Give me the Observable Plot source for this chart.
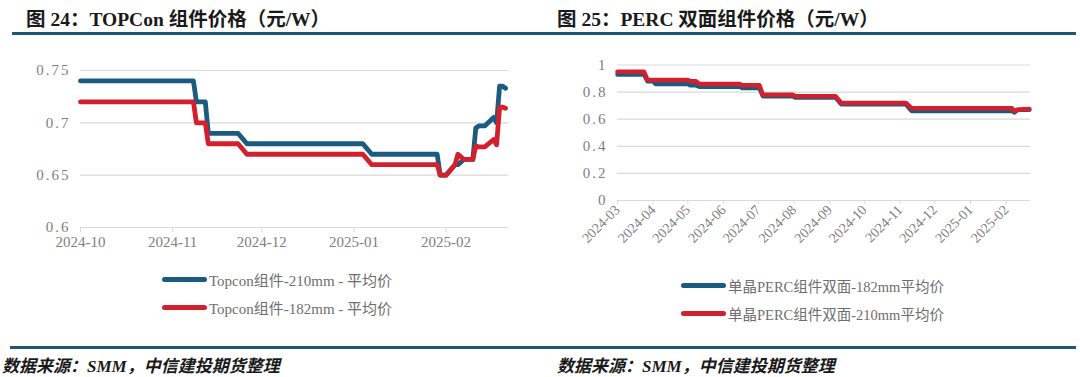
<!DOCTYPE html>
<html>
<head>
<meta charset="utf-8">
<script src="https://cdn.jsdelivr.net/npm/d3@7"></script>
<script src="https://cdn.jsdelivr.net/npm/@observablehq/plot@0.6"></script>
<style>
  html, body { margin: 0; padding: 0; background: #fff; }
  #root { position: relative; width: 1080px; height: 377px; overflow: hidden; background: #fff; }
  .title { position: absolute; top: 3px; font-family: "Liberation Serif", "Noto Sans CJK SC", serif; font-weight: bold; font-size: 19.5px; color: #1a1a1a; white-space: nowrap; }
  .rule { position: absolute; height: 3px; background: #1f5676; }
  .source { position: absolute; top: 357px; line-height: 20px; font-family: "Liberation Serif", "Noto Sans CJK SC", serif; font-weight: bold; font-style: italic; font-size: 17px; color: #1a1a1a; white-space: nowrap; }
  .chart { position: absolute; top: 50px; }
  .leg { position: absolute; font-family: "Liberation Serif", "Noto Sans CJK SC", serif; color: #6e6e6e; white-space: nowrap; display: flex; align-items: center; }
  .leg .sw { width: 45px; height: 5px; border-radius: 3px; margin-right: 2px; }
</style>
</head>
<body>
<div id="root">
  <div class="title" style="left:26px">图 24：TOPCon 组件价格（元/W）</div>
  <div class="title" style="left:557px">图 25：PERC 双面组件价格（元/W）</div>
  <div class="rule" style="left:12px; width:1064px; top:32px"></div>
  <div id="left" class="chart" style="left:0px"></div>
  <div id="right" class="chart" style="left:540px"></div>
  <div id="legLeft"></div>
  <div id="legRight"></div>
  <div class="rule" style="left:10px; width:1066px; top:346px"></div>
  <div class="source" style="left:2px">数据来源：SMM，中信建投期货整理</div>
  <div class="source" style="left:557px">数据来源：SMM，中信建投期货整理</div>
</div>
<script>
// ---------- Data: left chart (TOPCon) ----------
const topconDates = ["2024-10-01","2024-11-08","2024-11-09","2024-11-12","2024-11-13","2024-11-23","2024-11-26","2025-01-04","2025-01-07","2025-01-29","2025-01-30","2025-02-01","2025-02-04","2025-02-05","2025-02-07","2025-02-10","2025-02-11","2025-02-12","2025-02-14","2025-02-17","2025-02-18","2025-02-19","2025-02-20","2025-02-21"];
const topcon210 = [0.74,0.74,0.72,0.72,0.69,0.69,0.68,0.68,0.67,0.67,0.65,0.65,0.66,0.66,0.665,0.665,0.695,0.697,0.697,0.705,0.700,0.735,0.735,0.733];
const topcon182 = [0.72,0.72,0.70,0.70,0.68,0.68,0.67,0.67,0.66,0.66,0.65,0.65,0.66,0.67,0.665,0.665,0.678,0.677,0.677,0.684,0.679,0.715,0.715,0.714];
const topconSeries = ["Topcon组件-210mm - 平均价", "Topcon组件-182mm - 平均价"];
const leftXLabels = ["2024-10","2024-11","2024-12","2025-01","2025-02"];
const leftYTicks = [0.6, 0.65, 0.7, 0.75];
const leftYLabels = ["0.6","0.65","0.7","0.75"];
const leftDomainX = ["2024-10-01","2025-02-22"];

// ---------- Data: right chart (PERC bifacial) ----------
const percDates = ["2024-03-01","2024-03-24","2024-03-27","2024-04-01","2024-04-03","2024-05-01","2024-05-03","2024-05-08","2024-05-11","2024-06-15","2024-06-17","2024-07-02","2024-07-05","2024-07-31","2024-08-02","2024-09-06","2024-09-11","2024-11-06","2024-11-11","2025-02-06","2025-02-08","2025-02-11","2025-02-21"];
const perc182 = [0.93,0.93,0.88,0.88,0.86,0.86,0.85,0.85,0.84,0.84,0.83,0.83,0.77,0.77,0.76,0.76,0.71,0.71,0.66,0.66,0.65,0.67,0.67];
const perc210 = [0.95,0.95,0.89,0.89,0.89,0.89,0.88,0.88,0.86,0.86,0.85,0.85,0.78,0.78,0.77,0.77,0.72,0.72,0.68,0.68,0.66,0.67,0.675];
const percSeries = ["单晶PERC组件双面-182mm平均价", "单晶PERC组件双面-210mm平均价"];
const rightXLabels = ["2024-03","2024-04","2024-05","2024-06","2024-07","2024-08","2024-09","2024-10","2024-11","2024-12","2025-01","2025-02"];
const rightYTicks = [0, 0.2, 0.4, 0.6, 0.8, 1];
const rightYLabels = ["0","0.2","0.4","0.6","0.8","1"];
const rightDomainX = ["2024-03-01","2025-02-22"];

const BLUE = "#1b5b80";
const RED = "#d3202e";
const GRID = "#d9d9d9";
const TXT = "#808080";
const FONT = '"Liberation Serif", "Noto Sans CJK SC", serif';

function rows(dates, vals, name) {
  return dates.map((d, i) => ({date: new Date(d), value: vals[i], series: name}));
}

// ---------- Left chart ----------
const leftRows = [...rows(topconDates, topcon210, topconSeries[0]), ...rows(topconDates, topcon182, topconSeries[1])];
const leftTickDates = leftXLabels.map(s => new Date(s + "-01"));
const leftPlot = Plot.plot({
  width: 540, height: 215,
  marginLeft: 80, marginRight: 32, marginTop: 20, marginBottom: 38,
  style: {fontFamily: FONT, fontSize: "15px", background: "transparent", overflow: "visible"},
  x: {type: "utc", domain: leftDomainX.map(d => new Date(d))},
  y: {domain: [0.6, 0.75]},
  color: {domain: topconSeries, range: [BLUE, RED]},
  marks: [
    Plot.gridY(leftYTicks, {stroke: GRID, strokeOpacity: 1, strokeWidth: 1.2}),
    Plot.axisY(leftYTicks, {tickSize: 0, tickPadding: 10, fill: TXT, tickFormat: (d, i) => leftYLabels[i], label: null}),
    Plot.axisX(leftTickDates, {tickSize: 5, tickPadding: 4, stroke: GRID, fill: TXT, tickFormat: (d, i) => leftXLabels[i], label: null}),
    Plot.line(leftRows, {x: "date", y: "value", z: "series", stroke: "series", strokeWidth: 4.8, strokeLinejoin: "round", strokeLinecap: "round"})
  ]
});
d3.select(leftPlot).selectAll('g[aria-label="y-axis tick label"] text').style("letter-spacing", "2px");
document.getElementById("left").appendChild(leftPlot);

// ---------- Right chart ----------
const rightRows = [...rows(percDates, perc182, percSeries[0]), ...rows(percDates, perc210, percSeries[1])];
const rightTickDates = rightXLabels.map(s => new Date(s + "-01"));
const rightPlot = Plot.plot({
  width: 540, height: 215,
  marginLeft: 77, marginRight: 50, marginTop: 14.5, marginBottom: 65,
  style: {fontFamily: FONT, fontSize: "14px", background: "transparent", overflow: "visible"},
  x: {type: "utc", domain: rightDomainX.map(d => new Date(d))},
  y: {domain: [0, 1]},
  color: {domain: percSeries, range: [BLUE, RED]},
  marks: [
    Plot.gridY(rightYTicks, {stroke: GRID, strokeOpacity: 1, strokeWidth: 1.2}),
    Plot.axisY(rightYTicks, {tickSize: 0, tickPadding: 10, fill: TXT, fontSize: 15, tickFormat: (d, i) => rightYLabels[i], label: null}),
    Plot.axisX(rightTickDates, {tickSize: 4, tickPadding: 3, tickRotate: -45, stroke: GRID, fill: TXT, tickFormat: (d, i) => rightXLabels[i], label: null}),
    Plot.line(rightRows, {x: "date", y: "value", z: "series", stroke: "series", strokeWidth: 4.5, strokeLinejoin: "round", strokeLinecap: "round"})
  ]
});
d3.select(rightPlot).selectAll('g[aria-label="y-axis tick label"] text').style("letter-spacing", "2px");
document.getElementById("right").appendChild(rightPlot);

// ---------- Legends ----------
function legend(containerId, names, colors, left, tops, size) {
  const c = document.getElementById(containerId);
  names.forEach((n, i) => {
    const el = document.createElement("div");
    el.className = "leg";
    el.style.left = left + "px";
    el.style.top = (tops[i] - 10) + "px";
    el.style.height = "20px";
    el.style.fontSize = size + "px";
    const sw = document.createElement("div");
    sw.className = "sw";
    sw.style.background = colors[i];
    const t = document.createElement("span");
    t.textContent = n;
    el.appendChild(sw); el.appendChild(t);
    c.appendChild(el);
  });
}
legend("legLeft", topconSeries, [BLUE, RED], 162, [279, 307], 15);
legend("legRight", percSeries, [BLUE, RED], 681, [285, 313], 14.5);
</script>
</body>
</html>
